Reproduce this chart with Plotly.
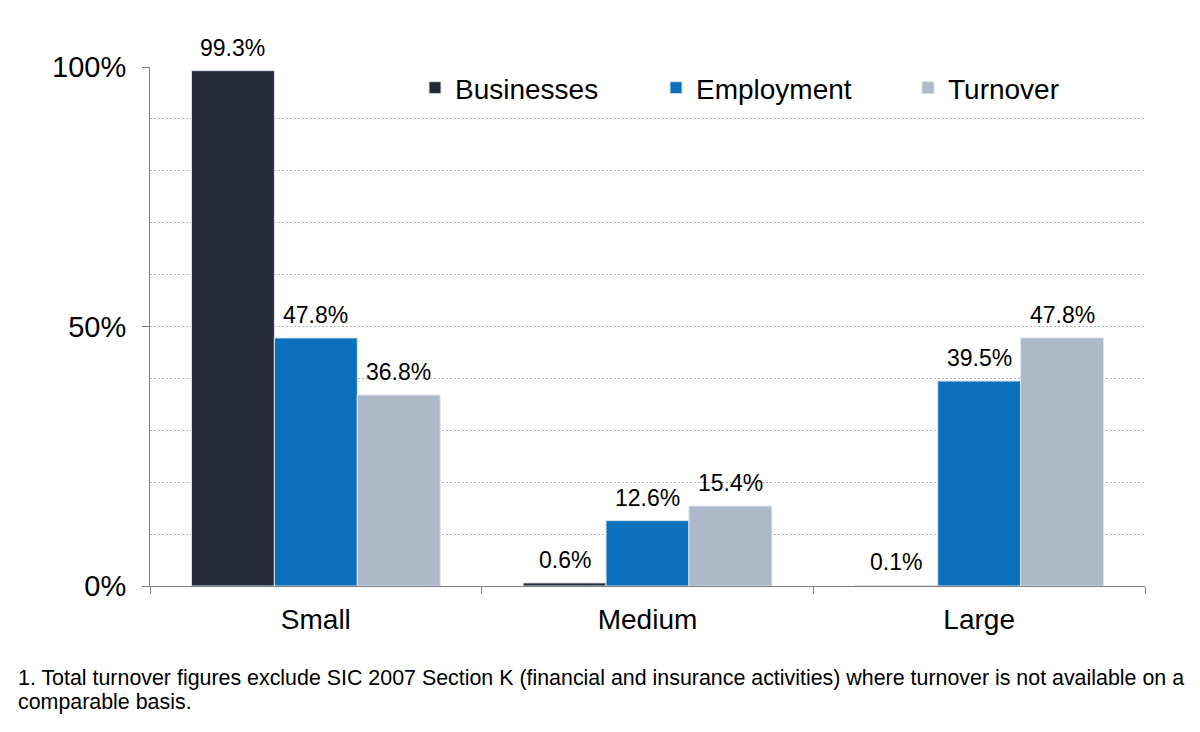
import plotly.graph_objects as go

categories = ["Small", "Medium", "Large"]
businesses = [99.3, 0.6, 0.1]
employment = [47.8, 12.6, 39.5]
turnover = [36.8, 15.4, 47.8]
series_names = ["Businesses", "Employment", "Turnover"]
colors = ["#252b36", "#0a6fbd", "#adb9c9"]
y_ticks = [0, 50, 100]
y_tick_labels = ["0%", "50%", "100%"]
footnote_lines = [
    "1. Total turnover figures exclude SIC 2007 Section K (financial and insurance activities) "
    "where turnover is not available on a",
    "comparable basis.",
]

FONT = "Liberation Sans, Arial, sans-serif"
OFF = 8  # default page body margin
W, H = 1200 - 2 * OFF, 732 - 2 * OFF
PL, PT, PW, PH = 150 - OFF, 67 - OFF, 995, 519
BARGAP = 0.25
legend_text_x = [455, 696, 948]  # screen px where each legend label starts

fig = go.Figure()
legend_ids = ["legend", "legend2", "legend3"]
n = len(series_names)
bar_w = (1 - BARGAP) / n
for k, (name, vals, col) in enumerate(zip(series_names, [businesses, employment, turnover], colors)):
    fig.add_trace(go.Bar(
        name=name, x=categories, y=vals,
        marker=dict(color=col, line=dict(color="#dde3ea", width=1)),
        legend=legend_ids[k],
        cliponaxis=False,
    ))
    offset = (k - (n - 1) / 2) * bar_w
    for i, v in enumerate(vals):
        fig.add_annotation(
            x=i + offset, y=v, xref="x", yref="y", text=f"{v:.1f}%",
            showarrow=False, yanchor="bottom", yshift=8,
            font=dict(size=23, family=FONT, color="#000000"),
        )

legend_common = dict(
    orientation="h", yanchor="middle", xanchor="left",
    font=dict(size=28, family=FONT), bgcolor="rgba(0,0,0,0)", itemwidth=30,
)
layout_legends = {}
for k, lid in enumerate(legend_ids):
    layout_legends[lid] = dict(
        legend_common,
        x=(legend_text_x[k] - 40 - 150) / PW,
        y=(586 - 88) / PH,
    )

fig.update_layout(
    width=W, height=H,
    barmode="group", bargap=BARGAP, bargroupgap=0,
    plot_bgcolor="white", paper_bgcolor="white",
    font=dict(family=FONT, color="#000000"),
    margin=dict(l=PL, r=W - PL - PW, t=PT, b=H - PT - PH, autoexpand=False),
    showlegend=True,
    **layout_legends,
)

fig.update_yaxes(
    range=[0, 100], tickvals=y_ticks, ticktext=y_tick_labels,
    tickfont=dict(size=29, family=FONT),
    showline=True, linecolor="#7f7f7f", linewidth=1,
    ticks="outside", ticklen=7, tickcolor="#7f7f7f",
    showgrid=True, gridcolor="#b5b5b5", griddash="2px,2px", gridwidth=1,
    minor=dict(dtick=10, showgrid=True, gridcolor="#b5b5b5", griddash="2px,2px", ticks=""),
    zeroline=False, fixedrange=True, ticklabelstandoff=10,
)
fig.update_xaxes(
    tickfont=dict(size=28, family=FONT),
    showline=True, linecolor="#7f7f7f", linewidth=1,
    ticks="outside", tickson="boundaries", ticklen=7, tickcolor="#7f7f7f",
    showgrid=False, ticklabelstandoff=8,
)

for i, line in enumerate(footnote_lines):
    fig.add_annotation(
        text=line, xref="paper", yref="paper",
        x=(16 - 150) / PW, y=(586 - (678 + 24 * i)) / PH, xanchor="left", yanchor="middle",
        align="left", showarrow=False, font=dict(size=21.4, family=FONT, color="#000000"),
    )

fig.write_html("out.html")
